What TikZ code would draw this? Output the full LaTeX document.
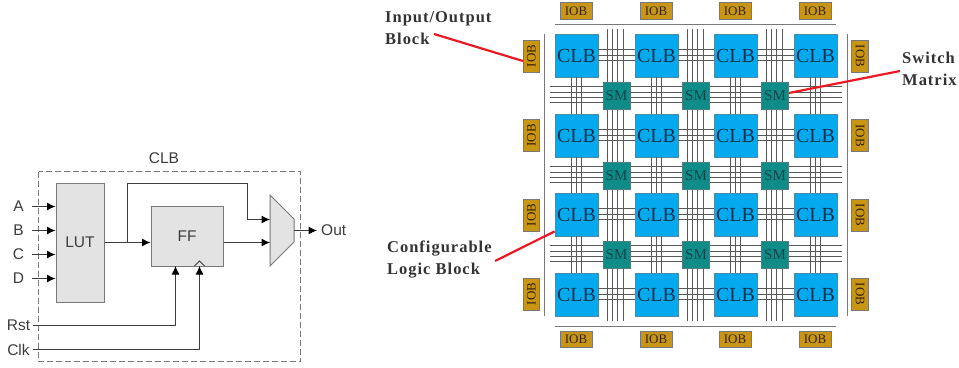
\documentclass[tikz,border=0pt]{standalone}
\usepackage{fontspec}
\setmainfont{Liberation Serif}
\setsansfont{Liberation Sans}
\newfontfamily\calloutfont[LetterSpace=6]{Liberation Serif}
\usetikzlibrary{calc}
\usetikzlibrary{arrows.meta}
\definecolor{gray1}{RGB}{60,60,60}
\definecolor{gray2}{RGB}{120,120,120}
\definecolor{gray3}{RGB}{227,227,227}
\definecolor{blue1}{RGB}{5,170,238}
\definecolor{blue2}{RGB}{10,50,80}
\definecolor{teal1}{RGB}{15,140,135}
\definecolor{teal2}{RGB}{15,70,75}
\definecolor{gold1}{RGB}{200,150,20}
\definecolor{gold2}{RGB}{50,35,20}
\definecolor{red1}{RGB}{235,25,35}
\tikzset{
	block/.style={draw=gray2,fill=gray3,line width=1pt,inner sep=0pt,font=\sffamily\fontsize{15.5}{15.5}\selectfont,text=gray1},
	port/.style={inner sep=0pt,font=\sffamily\fontsize{15.5}{15.5}\selectfont,text=gray1},
	sig/.style={draw=gray1,line width=1pt},
	sigarrow/.style={sig,-{Latex[length=8.5pt,width=8pt,black]}},
	clb/.style={draw=gray2!60!blue1,fill=blue1,line width=0.7pt,minimum width=43pt,minimum height=43pt,inner sep=0pt,text=blue2,font=\fontsize{20}{20}\selectfont},
	sm/.style={draw=gray2!60!teal1,fill=teal1,line width=0.7pt,minimum width=27pt,minimum height=27pt,inner sep=0pt,text=teal2,font=\fontsize{15}{15}\selectfont},
	iob/.style={draw=gray2,fill=gold1,line width=0.7pt,minimum width=32pt,minimum height=16.5pt,inner sep=0pt,text=gold2,font=\fontsize{13}{13}\selectfont},
	track/.style={draw=gray1!85,line width=1pt},
	rail/.style={draw=gray2,line width=1pt},
	callout/.style={inner sep=0pt,align=left,anchor=north west,text=black!80,font=\calloutfont\bfseries\fontsize{16.5}{22}\selectfont},
	leader/.style={draw=red1,line width=2.2pt}
}

\begin{document}
\begin{tikzpicture}[x=1pt,y=-1pt]

	\useasboundingbox (0,0) rectangle (959,367);

	%%% CLB outline and title
	\draw[draw=gray2,line width=1.5pt,dash pattern=on 6pt off 3pt] (38.5,171.5) rectangle (300.5,361.5);
	\node[port] (clbtitle) at (164,158) {CLB};

	%%% LUT and FF
	\node[block,minimum width=48pt,minimum height=119pt] (lut) at (80,242.5) {LUT};
	\node[block,minimum width=72pt,minimum height=60pt] (ff) at (187,236) {FF};
	\draw[sig,fill=gray3] (194.5,266) -- (199.5,261) -- (204.5,266);

	%%% Mux
	\filldraw[fill=gray3,draw=gray2,line width=1pt] (270,195) -- (294,219) -- (294,242) -- (270,266) -- cycle;
	\coordinate (muxtop) at (270,219.5);
	\coordinate (muxbot) at (270,242.5);
	\coordinate (muxout) at (294,230.5);

	%%% Input ports
	\foreach \name/\ypos in {A/206.5,B/230.5,C/254.5,D/278.5}
		{
		\node[port,minimum width=27pt] (in\name) at (18.5,\ypos) {\name};
		\draw[sigarrow] (in\name.east) -- (in\name -| lut.west);
		}
	\node[port,minimum width=29pt] (rst) at (18.5,325.5) {Rst};
	\node[port,minimum width=29pt] (clk) at (18.5,349.5) {Clk};
	\node[port,anchor=west] (out) at (321,230.5) {Out};

	%%% Signals
	\coordinate (branch) at (127.5,242.5);
	\coordinate (ffrst) at (175.5,266);
	\coordinate (ffclk) at (199.5,266);
	\draw[sigarrow] (lut.east) -- (ff.west |- lut.east);
	\draw[sigarrow] (branch) -- (127.5,183.5) -- (247.5,183.5) -- (247.5,219.5) -- (muxtop);
	\draw[sigarrow] (ff.east |- lut.east) -- (muxbot);
	\draw[sigarrow] (muxout) -- ([xshift=-4pt]out.west);
	\draw[sigarrow] (rst.east) -| (ffrst);
	\draw[sigarrow] (clk.east) -| (ffclk);

	%%% Routing tracks
	\foreach \xpos in {616,696,775}
		\foreach \xoff in {-8.5,-3.5,1.5,7.5}
			\draw[track] (\xpos+\xoff,29) -- (\xpos+\xoff,321);
	\foreach \ypos in {95,175,254}
		\foreach \yoff in {-8.5,-2.5,2.5,7.5}
			\draw[track] (550,\ypos+\yoff) -- (842,\ypos+\yoff);

	%%% Outer rails
	\draw[rail] (555,24.5) -- (836,24.5);
	\draw[rail] (555,326.5) -- (836,326.5);
	\draw[rail] (544.5,34) -- (544.5,316);
	\draw[rail] (847.5,34) -- (847.5,316);

	%%% CLB array
	\foreach \row/\ypos in {1/55.5,2/135.5,3/214.5,4/294.5}
		\foreach \col/\xpos in {1/576.5,2/656.5,3/735.5,4/815.5}
			\node[clb] (clb-\row-\col) at (\xpos,\ypos) {CLB};
	\foreach \row in {1,2,3,4}
		\foreach \col/\next in {1/2,2/3,3/4}
			\foreach \off in {-5,0,6}
				\draw[track] ([yshift=\off pt]clb-\row-\col.east) -- ([yshift=\off pt]clb-\row-\next.west);
	\foreach \col in {1,2,3,4}
		\foreach \row/\next in {1/2,2/3,3/4}
			\foreach \off in {-5,0,5}
				\draw[track] ([xshift=\off pt]clb-\row-\col.south) -- ([xshift=\off pt]clb-\next-\col.north);

	%%% Switch matrices
	\foreach \row/\ypos in {1/95.5,2/175.5,3/254.5}
		\foreach \col/\xpos in {1/616.5,2/696,3/775}
			\node[sm] (sm-\row-\col) at (\xpos,\ypos) {SM};

	%%% IOBs
	\foreach \col/\xpos in {1/576,2/656,3/735,4/815}
		{
		\node[iob] (iobt-\col) at (\xpos,11) {IOB};
		\node[iob] (iobb-\col) at (\xpos,339.5) {IOB};
		}
	\foreach \row/\ypos in {1/56,2/135.5,3/215,4/294}
		{
		\node[iob,rotate=90] (iobl-\row) at (531.5,\ypos) {IOB};
		\node[iob,rotate=-90] (iobr-\row) at (860,\ypos) {IOB};
		}

	%%% Callouts
	\node[callout] (iolabel) at (385,11) {Input/Output\\Block};
	\node[callout] (swlabel) at (902,52) {Switch\\Matrix};
	\node[callout] (cfglabel) at (387,241) {Configurable\\Logic Block};
	\coordinate (ioleader) at (434,34);
	\coordinate (swleader) at (900,71);
	\coordinate (cfgleader) at (495,261);
	\draw[leader] (ioleader) -- ([yshift=-5pt]iobl-1.north);
	\draw[leader] (swleader) -- ([yshift=2.5pt]sm-1-3.east);
	\draw[leader] (cfgleader) -- ([yshift=5pt]clb-3-1.south west);

\end{tikzpicture}
\end{document}
